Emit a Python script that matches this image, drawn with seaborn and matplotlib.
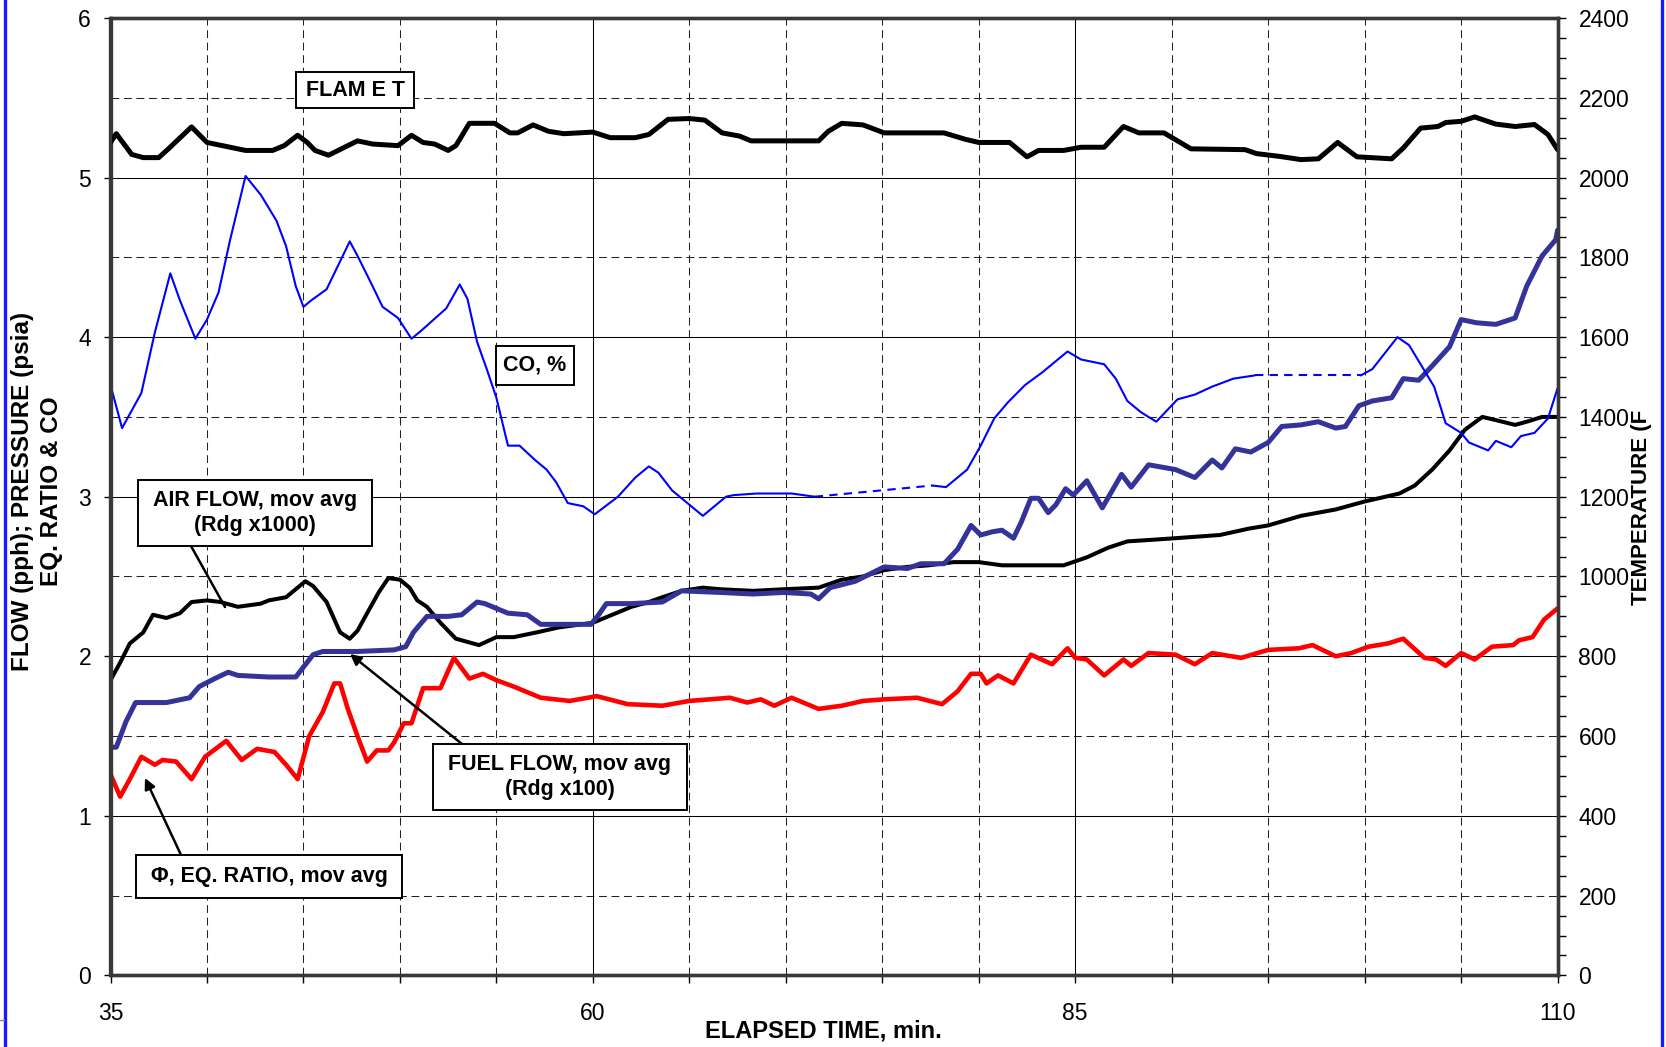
import numpy as np
import pandas as pd
import matplotlib
matplotlib.use("Agg")
import matplotlib.pyplot as plt
import seaborn as sns
from matplotlib.lines import Line2D
from matplotlib.patches import Rectangle
from matplotlib.ticker import MultipleLocator, FixedLocator

# ---------------- data ----------------
flame_time = [35.0, 35.3, 36.1, 36.7, 37.5, 38.0, 39.2, 40.0, 40.8, 42.0, 43.4, 44.0, 44.7, 45.2, 45.6,
              46.3, 46.8, 47.8, 48.6, 49.9, 50.6, 51.2, 51.8, 52.5, 52.9, 53.6, 54.9, 55.7, 56.1, 56.9,
              57.7, 58.5, 60.0, 60.9, 62.2, 62.9, 63.9, 65.0, 65.8, 66.7, 67.6, 68.2, 71.7, 72.2, 72.9,
              74.0, 75.1, 78.2, 79.3, 80.0, 81.6, 82.5, 83.1, 84.4, 85.3, 86.5, 87.5, 88.3, 89.6, 91.0,
              93.8, 94.4, 95.6, 96.7, 97.6, 98.6, 99.6, 101.4, 102.0, 102.9, 103.8, 104.2, 105.0, 105.7,
              106.8, 107.8, 108.8, 109.5, 110.0]
flame_temp = [2088, 2110, 2058, 2050, 2050, 2072, 2127, 2088, 2080, 2068, 2068, 2080, 2106, 2088, 2068,
              2056, 2068, 2092, 2084, 2080, 2106, 2088, 2084, 2068, 2080, 2136, 2136, 2112, 2112, 2132,
              2116, 2110, 2114, 2100, 2100, 2108, 2146, 2148, 2144, 2112, 2104, 2092, 2092, 2116, 2136,
              2132, 2112, 2112, 2096, 2088, 2088, 2052, 2068, 2068, 2076, 2076, 2128, 2112, 2112, 2072,
              2070, 2060, 2053, 2045, 2047, 2088, 2052, 2047, 2074, 2124, 2128, 2138, 2141, 2152,
              2134, 2128, 2133, 2108, 2070]

co_time = [35.0, 35.6, 36.6, 37.3, 38.1, 38.6, 39.4, 40.0, 40.6, 41.2, 42.0, 42.8, 43.6, 44.1, 44.6,
           45.0, 45.4, 46.2, 46.8, 47.4, 47.8, 48.5, 49.1, 49.9, 50.6, 51.1, 52.4, 53.1, 53.5, 54.0,
           54.5, 55.0, 55.6, 56.2, 57.0, 57.6, 58.1, 58.7, 59.5, 60.1, 61.3, 62.2, 62.9, 63.4, 64.1,
           65.0, 65.7, 66.9, 67.3, 68.5, 70.3, 71.5, 77.6, 78.3, 79.4, 80.1, 80.8, 81.5, 82.4, 83.3,
           84.6, 85.3, 86.5, 87.1, 87.7, 88.4, 89.2, 90.3, 91.2, 92.1, 93.2, 94.3, 99.8, 100.4, 101.7,
           102.3, 102.9, 103.6, 104.2, 105.0, 105.4, 106.4, 106.8, 107.6, 108.1, 108.8, 109.5, 110.0]
co_pct = [3.70, 3.43, 3.65, 4.03, 4.40, 4.23, 3.99, 4.11, 4.28, 4.61, 5.01, 4.89, 4.73, 4.57, 4.32,
          4.19, 4.23, 4.30, 4.45, 4.60, 4.51, 4.34, 4.19, 4.12, 3.99, 4.04, 4.18, 4.33, 4.24, 3.97,
          3.80, 3.62, 3.32, 3.32, 3.23, 3.17, 3.09, 2.96, 2.94, 2.89, 3.00, 3.12, 3.19, 3.15, 3.04,
          2.95, 2.88, 3.00, 3.01, 3.02, 3.02, 3.00, 3.07, 3.06, 3.17, 3.32, 3.49, 3.59, 3.70, 3.78,
          3.91, 3.86, 3.83, 3.74, 3.60, 3.53, 3.47, 3.61, 3.64, 3.69, 3.74, 3.76, 3.76, 3.80, 4.00,
          3.95, 3.83, 3.69, 3.46, 3.40, 3.34, 3.29, 3.35, 3.31, 3.38, 3.40, 3.49, 3.68]
co_dashed_spans = [(71.5, 77.6), (94.3, 99.8)]

air_time = [35.0, 35.5, 36.0, 36.7, 37.2, 37.9, 38.6, 39.2, 40.0, 40.7, 41.6, 42.8, 43.2, 44.1, 45.1,
            45.5, 46.2, 46.9, 47.4, 47.8, 48.3, 48.9, 49.4, 50.0, 50.5, 50.9, 51.4, 52.1, 52.9, 53.5,
            54.1, 55.0, 55.9, 57.1, 58.2, 60.0, 60.8, 62.0, 62.9, 63.6, 64.6, 65.7, 66.6, 68.3, 69.9,
            71.7, 72.9, 74.0, 75.1, 76.3, 77.4, 78.7, 80.0, 81.2, 84.4, 85.6, 86.7, 87.7, 89.0, 90.2,
            92.5, 94.0, 95.0, 96.7, 98.5, 100.0, 101.8, 102.6, 103.5, 104.4, 105.2, 106.1, 106.8, 107.8,
            108.4, 109.2, 110.0]
air_flow = [1.85, 1.96, 2.08, 2.15, 2.26, 2.24, 2.27, 2.34, 2.35, 2.34, 2.31, 2.33, 2.35, 2.37, 2.47,
            2.44, 2.34, 2.15, 2.11, 2.16, 2.27, 2.40, 2.49, 2.48, 2.43, 2.35, 2.31, 2.21, 2.11, 2.09,
            2.07, 2.12, 2.12, 2.15, 2.18, 2.21, 2.25, 2.31, 2.34, 2.37, 2.41, 2.43, 2.42, 2.41, 2.42,
            2.43, 2.48, 2.50, 2.54, 2.56, 2.57, 2.59, 2.59, 2.57, 2.57, 2.62, 2.68, 2.72, 2.73, 2.74,
            2.76, 2.80, 2.82, 2.88, 2.92, 2.97, 3.02, 3.07, 3.17, 3.29, 3.42, 3.50, 3.48, 3.45,
            3.47, 3.50, 3.50]

fuel_time = [35.0, 35.3, 35.8, 36.3, 37.9, 39.1, 39.6, 40.4, 41.1, 41.6, 43.2, 44.6, 45.5, 46.0, 47.8,
             49.7, 50.3, 50.7, 51.4, 52.5, 53.2, 54.0, 54.4, 55.0, 55.6, 56.6, 57.3, 58.3, 59.9, 60.3,
             60.7, 62.0, 63.6, 64.6, 66.6, 68.3, 69.9, 71.3, 71.7, 72.3, 73.6, 75.1, 76.3, 77.0, 78.2,
             78.9, 79.6, 80.1, 80.7, 81.2, 81.8, 82.2, 82.7, 83.1, 83.6, 84.0, 84.5, 84.9, 85.6, 86.4,
             87.4, 87.9, 88.8, 90.2, 91.2, 92.1, 92.6, 93.3, 94.1, 95.0, 95.7, 96.7, 97.6, 98.5, 99.0,
             99.7, 100.4, 101.4, 102.0, 102.8, 103.5, 104.4, 105.0, 105.8, 106.8, 107.8, 108.4, 109.2,
             109.9, 110.0]
fuel_flow = [1.43, 1.43, 1.59, 1.71, 1.71, 1.74, 1.81, 1.86, 1.90, 1.88, 1.87, 1.87, 2.01, 2.03, 2.03,
             2.04, 2.06, 2.15, 2.25, 2.25, 2.26, 2.34, 2.33, 2.30, 2.27, 2.26, 2.20, 2.20, 2.20, 2.26,
             2.33, 2.33, 2.34, 2.41, 2.40, 2.39, 2.40, 2.39, 2.36, 2.43, 2.47, 2.56, 2.55, 2.58, 2.58,
             2.67, 2.82, 2.76, 2.78, 2.79, 2.74, 2.84, 2.99, 2.99, 2.90, 2.95, 3.05, 3.01, 3.10, 2.93,
             3.14, 3.06, 3.20, 3.17, 3.12, 3.23, 3.18, 3.30, 3.28, 3.34, 3.44, 3.45, 3.47, 3.43, 3.44,
             3.57, 3.60, 3.62, 3.74, 3.73, 3.82, 3.94, 4.11, 4.09, 4.08, 4.12, 4.32, 4.51,
             4.61, 4.67]

phi_time = [35.0, 35.5, 36.0, 36.6, 37.3, 37.7, 38.4, 39.2, 39.9, 41.0, 41.8, 42.6, 43.5, 44.1, 44.7,
            45.3, 46.0, 46.6, 46.9, 47.3, 47.8, 48.3, 48.8, 49.4, 49.7, 50.2, 50.6, 51.2, 52.1, 52.8,
            53.6, 54.3, 55.0, 55.9, 57.3, 58.8, 60.2, 61.8, 63.6, 65.0, 67.1, 68.0, 68.7, 69.4, 70.3,
            71.7, 72.9, 74.0, 75.1, 76.8, 78.1, 78.9, 79.6, 80.1, 80.4, 81.0, 81.8, 82.7, 83.8, 84.6,
            85.0, 85.6, 86.5, 87.5, 87.9, 88.8, 90.2, 91.2, 92.1, 93.6, 95.0, 96.6, 97.3, 98.5, 99.3,
            100.2, 101.2, 102.0, 103.1, 103.7, 104.2, 105.0, 105.7, 106.6, 107.7, 108.0, 108.7, 109.3,
            110.0]
phi_ratio = [1.26, 1.12, 1.23, 1.37, 1.32, 1.35, 1.34, 1.23, 1.37, 1.47, 1.35, 1.42, 1.40, 1.32, 1.23,
             1.50, 1.65, 1.83, 1.83, 1.67, 1.50, 1.34, 1.41, 1.41, 1.46, 1.58, 1.58, 1.80, 1.80, 1.99,
             1.86, 1.89, 1.85, 1.81, 1.74, 1.72, 1.75, 1.70, 1.69, 1.72, 1.74, 1.71, 1.73, 1.69, 1.74,
             1.67, 1.69, 1.72, 1.73, 1.74, 1.70, 1.78, 1.89, 1.89, 1.83, 1.88, 1.83, 2.01, 1.95, 2.05,
             1.99, 1.98, 1.88, 1.98, 1.94, 2.02, 2.01, 1.95, 2.02, 1.99, 2.04, 2.05, 2.07, 2.00, 2.02,
             2.06, 2.08, 2.11, 1.99, 1.98, 1.94, 2.02, 1.98, 2.06, 2.07, 2.10, 2.12, 2.23,
             2.30]

x_major_ticks = [35, 60, 85, 110]
x_label = "ELAPSED TIME, min."
y_label = "FLOW (pph); PRESSURE (psia)\nEQ. RATIO & CO"
y2_label = "TEMPERATURE (F"

# ---------------- figure ----------------
sns.set_theme(style="ticks")
plt.rcParams['font.family'] = ['Liberation Sans', 'DejaVu Sans']
plt.rcParams['text.color'] = 'black'
plt.rcParams['xtick.color'] = 'black'
plt.rcParams['ytick.color'] = 'black'
plt.rcParams['axes.labelcolor'] = 'black'

W, H = 1666, 1047
fig = plt.figure(figsize=(W / 100, H / 100), dpi=100)
fig.patch.set_facecolor('white')


def fx(px):
    return px / W


def fy(py):
    return 1 - py / H


L, R, T, B = 110.5, 1557.6, 18.0, 975.4
ax = fig.add_axes([fx(L), fy(B), fx(R) - fx(L), fy(T) - fy(B)])
ax2 = ax.twinx()
ax.set_facecolor('white')
ax2.patch.set_visible(False)

ax.set_xlim(35, 110)
ax.set_ylim(0, 6)
ax2.set_ylim(0, 2400)

# grid
ax.xaxis.set_major_locator(FixedLocator(x_major_ticks))
ax.xaxis.set_minor_locator(MultipleLocator(5))
ax.yaxis.set_major_locator(MultipleLocator(1))
ax.yaxis.set_minor_locator(MultipleLocator(0.5))
ax.grid(which='major', color='black', lw=0.75, ls='-')
ax.grid(which='minor', color='#222222', lw=0.75, ls=(0, (7.5, 4.5)))
ax.set_axisbelow(True)

# series
df_air = pd.DataFrame({'t': air_time, 'v': air_flow})
df_fuel = pd.DataFrame({'t': fuel_time, 'v': fuel_flow})
df_phi = pd.DataFrame({'t': phi_time, 'v': phi_ratio})
df_flame = pd.DataFrame({'t': flame_time, 'v': flame_temp})

sns.lineplot(data=df_air, x='t', y='v', ax=ax, color='black', lw=2.9,
             estimator=None, sort=False, legend=False)
sns.lineplot(data=df_fuel, x='t', y='v', ax=ax, color='#333399', lw=3.6,
             estimator=None, sort=False, legend=False)
sns.lineplot(data=df_phi, x='t', y='v', ax=ax, color='#ff0000', lw=3.3,
             estimator=None, sort=False, legend=False)

# CO split into solid and dashed pieces
co_t = np.array(co_time)
co_v = np.array(co_pct)


def in_dashed(a, b):
    return any(a >= s - 1e-9 and b <= e + 1e-9 for s, e in co_dashed_spans)


segs = []
cur = [0]
cur_style = in_dashed(co_t[0], co_t[1])
for i in range(len(co_t) - 1):
    st = in_dashed(co_t[i], co_t[i + 1])
    if st != cur_style:
        segs.append((cur, cur_style))
        cur = [i]
        cur_style = st
    cur.append(i + 1)
segs.append((cur, cur_style))
for idx, dashed in segs:
    d = pd.DataFrame({'t': co_t[idx], 'v': co_v[idx]})
    sns.lineplot(data=d, x='t', y='v', ax=ax, color='#0000ff', lw=1.5,
                 ls=(0, (4, 3)) if dashed else '-', estimator=None, sort=False, legend=False)

sns.lineplot(data=df_flame, x='t', y='v', ax=ax2, color='black', lw=3.6,
             estimator=None, sort=False, legend=False)

# axes styling
spine_col = '#383838'
for a in (ax, ax2):
    for s in a.spines.values():
        s.set_visible(True)
        s.set_color(spine_col)
        s.set_linewidth(2.4)
ax.set_xlabel('')
ax.set_ylabel('')
ax2.set_ylabel('')

ax.tick_params(axis='x', which='both', direction='out', length=6, width=1, color='black',
               bottom=True, top=False, pad=13, labelsize=16.5)
ax.tick_params(axis='y', which='major', direction='out', length=5, width=1, color='black',
               left=True, right=False, pad=9, labelsize=16.5)
ax.tick_params(axis='y', which='minor', length=0, left=False, right=False)
ax2.yaxis.set_major_locator(MultipleLocator(200))
ax2.yaxis.set_minor_locator(MultipleLocator(50))
ax2.tick_params(axis='y', which='major', direction='out', length=6, width=1, color='black',
                right=True, left=False, pad=9, labelsize=16.5)
ax2.tick_params(axis='y', which='minor', direction='out', length=6, width=1, color='black',
                right=True, left=False)
ax.set_xticklabels([str(v) for v in x_major_ticks])

# axis titles
narrow = ['Liberation Sans Narrow', 'Liberation Sans', 'DejaVu Sans']
fig.text(fx(37), fy(491), y_label, rotation=90, ha='center', va='center',
         fontsize=17.5, fontweight='bold', linespacing=1.3, multialignment='center')
fig.text(fx(823), fy(1031), x_label, ha='center', va='center',
         fontsize=17, fontweight='bold', family=narrow)
fig.text(fx(1641), fy(507), y2_label, rotation=90, ha='center', va='center',
         fontsize=16, fontweight='bold', family=narrow)

# annotation boxes (pixel rectangles: x0, y0, x1, y1)
boxes = [
    ("FLAM E T", (296, 72, 414, 108)),
    ("CO, %", (496, 346, 574, 385)),
    ("AIR FLOW, mov avg\n(Rdg x1000)", (138, 480, 372, 546)),
    ("FUEL FLOW, mov avg\n(Rdg x100)", (433, 744, 687, 810)),
    ("\u03a6, EQ. RATIO, mov avg", (136, 855, 402, 898)),
]
for txt, (x0, y0, x1, y1) in boxes:
    fig.add_artist(Rectangle((fx(x0), fy(y1)), fx(x1) - fx(x0), fy(y0) - fy(y1),
                             transform=fig.transFigure, facecolor='white',
                             edgecolor='black', lw=1.4, zorder=5))
    fig.text(fx((x0 + x1) / 2), fy((y0 + y1) / 2), txt, ha='center', va='center',
             fontsize=15.5, fontweight='bold', linespacing=1.2, zorder=6)

# leader lines (tail -> tip, pixels)
leaders = [
    ((191, 546), (225, 607), '-'),
    ((462, 744), (350, 654), '-|>'),
    ((181, 855), (145, 778), '-|>'),
]
for (tx, ty), (hx, hy), style in leaders:
    ax.annotate('', xy=(fx(hx), fy(hy)), xycoords='figure fraction',
                xytext=(fx(tx), fy(ty)), textcoords='figure fraction',
                arrowprops=dict(arrowstyle=style, color='black', lw=1.8,
                                mutation_scale=16, shrinkA=0, shrinkB=0),
                annotation_clip=False, zorder=7)

# outer frame lines
fig.add_artist(Line2D([fx(5), fx(5)], [0, 1], color='#1a1aff', lw=2.4))
fig.add_artist(Line2D([fx(1662), fx(1662)], [0, 1], color='#1a1aff', lw=2.4))
fig.add_artist(Line2D([0, fx(4)], [fy(1020), fy(1020)], color='#888888', lw=1))

fig.savefig('out.png', dpi=100, facecolor='white')
